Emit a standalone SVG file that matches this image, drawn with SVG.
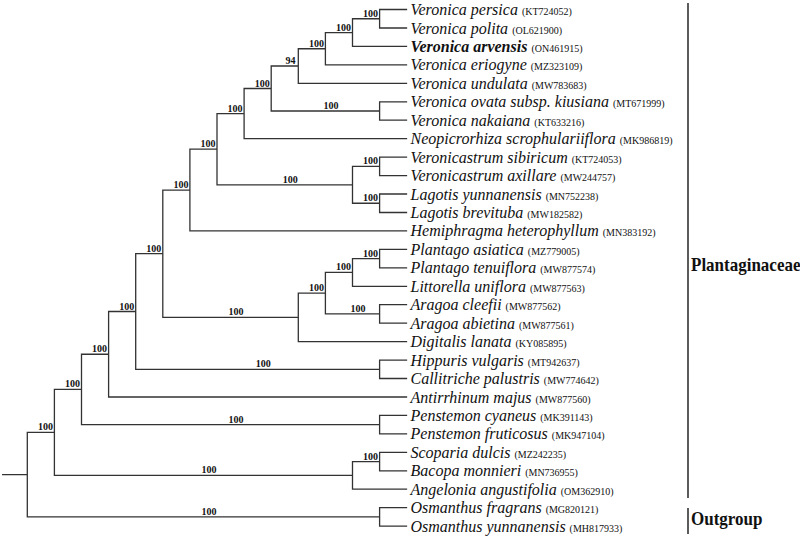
<svg xmlns="http://www.w3.org/2000/svg" width="800" height="537" viewBox="0 0 800 537">
<style>
.tree{fill:none;stroke:#333;stroke-width:1.3;stroke-linecap:square}
.sp{font-family:"Liberation Serif","Times New Roman",serif;font-style:italic;font-size:16px;fill:#111}
.acc{font-style:normal;font-weight:normal;font-size:10px}
.bs{font-family:"Liberation Serif","Times New Roman",serif;font-weight:bold;font-size:10px;fill:#111}
.e{text-anchor:end}
.m{text-anchor:middle}
.clade{font-family:"Liberation Serif","Times New Roman",serif;font-weight:bold;font-size:17px;fill:#111}
.bar{stroke:#333;stroke-width:1.6}
</style>
<rect width="800" height="537" fill="#fff"/>
<g id="connectors">
<path class="tree" d="M406.5 9.5H379.6V28H406.5 M379.6 18.75H352.5V46.4H406.5 M352.5 32.58H325.4V64.9H406.5 M325.4 48.74H298.3V83.3H406.5 M406.5 101.8H379.6V120.2H406.5 M298.3 66.02H271.2V111H379.6 M271.2 88.51H244.1V138.7H406.5 M406.5 157.1H379.6V175.6H406.5 M406.5 194H379.6V212.5H406.5 M379.6 166.35H352.5V203.25H379.6 M244.1 113.6H217V184.8H352.5 M217 149.2H189.9V230.9H406.5 M406.5 249.4H379.6V267.8H406.5 M379.6 258.6H352.5V286.3H406.5 M406.5 304.7H379.6V323.2H406.5 M352.5 272.45H325.4V313.95H379.6 M325.4 293.2H298.3V341.6H406.5 M189.9 190.05H162.8V317.4H298.3 M406.5 360.1H379.6V378.5H406.5 M162.8 253.7H135.7V369.3H379.6 M135.7 311.5H108.6V397H406.5 M406.5 415.4H379.6V433.9H406.5 M108.6 354.25H81.5V424.65H379.6 M406.5 452.3H379.6V470.8H406.5 M379.6 461.55H352.5V489.2H406.5 M81.5 389.45H54.4V475.4H352.5 M406.5 507.7H379.6V526.1H406.5 M54.4 432.4H27.3V516.9H379.6 M2.7 474.65H27.3"/>
</g>
<g id="bootstrap">
<text class="bs e" x="378.1" y="16.75">100</text>
<text class="bs e" x="351" y="30.58">100</text>
<text class="bs e" x="323.9" y="46.74">100</text>
<text class="bs e" x="295.5" y="64.02">94</text>
<text class="bs e" x="269.7" y="86.5">100</text>
<text class="bs e" x="242.6" y="111.6">100</text>
<text class="bs e" x="215.5" y="147.2">100</text>
<text class="bs e" x="188.4" y="188.05">100</text>
<text class="bs e" x="161.3" y="251.7">100</text>
<text class="bs e" x="134.2" y="309.5">100</text>
<text class="bs e" x="107.1" y="352.25">100</text>
<text class="bs e" x="80" y="387.45">100</text>
<text class="bs e" x="52.9" y="430.4">100</text>
<text class="bs e" x="378.1" y="164.35">100</text>
<text class="bs e" x="378.1" y="201.25">100</text>
<text class="bs e" x="378.1" y="256.6">100</text>
<text class="bs e" x="351" y="270.45">100</text>
<text class="bs e" x="323.9" y="291.2">100</text>
<text class="bs e" x="378.1" y="459.55">100</text>
<text class="bs m" x="330.9" y="109">100</text>
<text class="bs m" x="290.25" y="182.8">100</text>
<text class="bs m" x="358" y="311.95">100</text>
<text class="bs m" x="236" y="315.4">100</text>
<text class="bs m" x="263.2" y="367.3">100</text>
<text class="bs m" x="236" y="422.65">100</text>
<text class="bs m" x="209" y="473.4">100</text>
<text class="bs m" x="209" y="514.9">100</text>
</g>
<g id="leaf-persica"><text class="sp" x="410.5" y="15">Veronica persica <tspan class="acc">(KT724052)</tspan></text></g>
<g id="leaf-polita"><text class="sp" x="410.5" y="33.5">Veronica polita <tspan class="acc">(OL621900)</tspan></text></g>
<g id="leaf-arvensis"><text class="sp" font-weight="bold" x="410.5" y="51.9">Veronica arvensis <tspan class="acc">(ON461915)</tspan></text></g>
<g id="leaf-eriogyne"><text class="sp" x="410.5" y="70.4">Veronica eriogyne <tspan class="acc">(MZ323109)</tspan></text></g>
<g id="leaf-undulata"><text class="sp" x="410.5" y="88.8">Veronica undulata <tspan class="acc">(MW783683)</tspan></text></g>
<g id="leaf-ovata"><text class="sp" x="410.5" y="107.3">Veronica ovata subsp. kiusiana <tspan class="acc">(MT671999)</tspan></text></g>
<g id="leaf-nakaiana"><text class="sp" x="410.5" y="125.7">Veronica nakaiana <tspan class="acc">(KT633216)</tspan></text></g>
<g id="leaf-neopicrorhiza"><text class="sp" x="410.5" y="144.2">Neopicrorhiza scrophulariiflora <tspan class="acc">(MK986819)</tspan></text></g>
<g id="leaf-sibiricum"><text class="sp" x="410.5" y="162.6">Veronicastrum sibiricum <tspan class="acc">(KT724053)</tspan></text></g>
<g id="leaf-axillare"><text class="sp" x="410.5" y="181.1">Veronicastrum axillare <tspan class="acc">(MW244757)</tspan></text></g>
<g id="leaf-yunnanensis"><text class="sp" x="410.5" y="199.5">Lagotis yunnanensis <tspan class="acc">(MN752238)</tspan></text></g>
<g id="leaf-brevituba"><text class="sp" x="410.5" y="218">Lagotis brevituba <tspan class="acc">(MW182582)</tspan></text></g>
<g id="leaf-hemiphragma"><text class="sp" x="410.5" y="236.4">Hemiphragma heterophyllum <tspan class="acc">(MN383192)</tspan></text></g>
<g id="leaf-asiatica"><text class="sp" x="410.5" y="254.9">Plantago asiatica <tspan class="acc">(MZ779005)</tspan></text></g>
<g id="leaf-tenuiflora"><text class="sp" x="410.5" y="273.3">Plantago tenuiflora <tspan class="acc">(MW877574)</tspan></text></g>
<g id="leaf-littorella"><text class="sp" x="410.5" y="291.8">Littorella uniflora <tspan class="acc">(MW877563)</tspan></text></g>
<g id="leaf-cleefii"><text class="sp" x="410.5" y="310.2">Aragoa cleefii <tspan class="acc">(MW877562)</tspan></text></g>
<g id="leaf-abietina"><text class="sp" x="410.5" y="328.7">Aragoa abietina <tspan class="acc">(MW877561)</tspan></text></g>
<g id="leaf-digitalis"><text class="sp" x="410.5" y="347.1">Digitalis lanata <tspan class="acc">(KY085895)</tspan></text></g>
<g id="leaf-hippuris"><text class="sp" x="410.5" y="365.6">Hippuris vulgaris <tspan class="acc">(MT942637)</tspan></text></g>
<g id="leaf-callitriche"><text class="sp" x="410.5" y="384">Callitriche palustris <tspan class="acc">(MW774642)</tspan></text></g>
<g id="leaf-antirrhinum"><text class="sp" x="410.5" y="402.5">Antirrhinum majus <tspan class="acc">(MW877560)</tspan></text></g>
<g id="leaf-cyaneus"><text class="sp" x="410.5" y="420.9">Penstemon cyaneus <tspan class="acc">(MK391143)</tspan></text></g>
<g id="leaf-fruticosus"><text class="sp" x="410.5" y="439.4">Penstemon fruticosus <tspan class="acc">(MK947104)</tspan></text></g>
<g id="leaf-scoparia"><text class="sp" x="410.5" y="457.8">Scoparia dulcis <tspan class="acc">(MZ242235)</tspan></text></g>
<g id="leaf-bacopa"><text class="sp" x="410.5" y="476.3">Bacopa monnieri <tspan class="acc">(MN736955)</tspan></text></g>
<g id="leaf-angelonia"><text class="sp" x="410.5" y="494.7">Angelonia angustifolia <tspan class="acc">(OM362910)</tspan></text></g>
<g id="leaf-fragrans"><text class="sp" x="410.5" y="513.2">Osmanthus fragrans <tspan class="acc">(MG820121)</tspan></text></g>
<g id="leaf-osm-yunnanensis"><text class="sp" x="410.5" y="531.6">Osmanthus yunnanensis <tspan class="acc">(MH817933)</tspan></text></g>
<g id="clade-plantaginaceae">
<line class="bar" x1="688" y1="3" x2="688" y2="498"/>
<text class="clade" transform="matrix(1 0 0 1.1 691 271)">Plantaginaceae</text>
</g>
<g id="clade-outgroup">
<line class="bar" x1="688" y1="508" x2="688" y2="534"/>
<text class="clade" transform="matrix(1 0 0 1.1 691 525)">Outgroup</text>
</g>
</svg>
